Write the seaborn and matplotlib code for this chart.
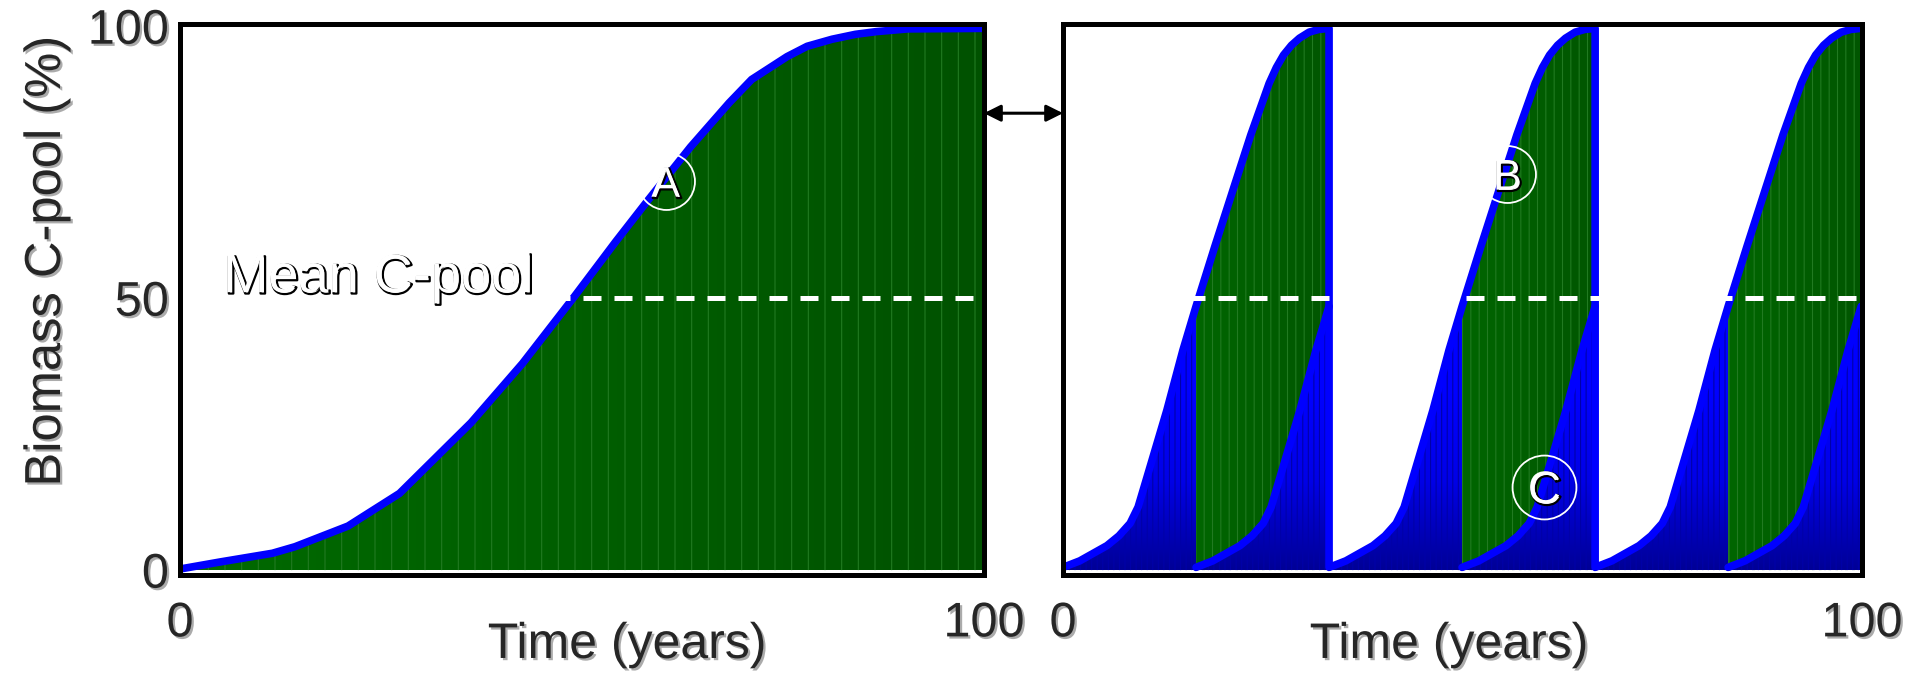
import numpy as np
import pandas as pd
import matplotlib.pyplot as plt
import seaborn as sns
from matplotlib import patheffects as pe
from matplotlib.colors import LinearSegmentedColormap

# --- data ---
# left panel: one stand growing for 100 years
years_a = [0, 5, 11.5, 14.3, 20.9, 27.3, 36.2, 42.6, 49, 54.2, 58.1, 63.5,
           68.3, 71.1, 75.5, 78, 81.1, 84, 86.6, 90.5, 100]
pool_a = [0.2, 1.5, 3.1, 4.3, 8.1, 14.1, 27.1, 38, 50.2, 60.4, 67.8, 77.8,
          85.9, 90.2, 94.4, 96.3, 97.6, 98.5, 99, 99.5, 99.6]

# right panel: one rotation, repeated three times
rot_years = [0, 2.1, 5.5, 7, 8.4, 9.4, 10.9, 13, 15, 16.65, 19, 21.3, 23.5,
             25.8, 26.7, 27.6, 28.6, 29.6, 30.8, 32, 33.3]
rot_pool = [0.5, 1.7, 4.5, 6.3, 8.6, 11.6, 19, 29.4, 40.4, 48.5, 59.5, 70, 80,
            89.5, 92.4, 94.7, 96.5, 97.8, 98.9, 99.4, 99.6]
rotation_starts = [0, 33.3, 66.6]
half_rotation = 16.65
mean_pool = 50

y_ticks = [0, 50, 100]
x_ticks = [0, 100]
x_ticklabels = ['0', '100']

circle_left = {'A': (60.4, 71.5)}
circle_right = {'B': (55.6, 72.8), 'C': (60.25, 15.3)}

sns.set_style('white')
plt.rcParams['font.family'] = ['Liberation Sans', 'DejaVu Sans']
plt.rcParams['hatch.linewidth'] = 0.8

BLUE = '#0000ff'
greens = ['#006a00', '#005200']
blues = ['#000096', '#0000e6', '#0000ff', '#0000ff']


def gradient_fill(ax, xs, ys, colors, vertical, z):
    poly = ax.fill_between(xs, ys, 0, facecolor='none', edgecolor='none', lw=0)
    ramp = np.linspace(0, 1, 256)
    ramp = ramp.reshape(-1, 1) if vertical else ramp.reshape(1, -1)
    top = max(ys) if vertical else 100
    im = ax.imshow(ramp, cmap=LinearSegmentedColormap.from_list('g', colors),
                   extent=[xs[0], xs[-1], 0, top], origin='lower', aspect='auto',
                   interpolation='bilinear', zorder=z)
    im.set_clip_path(poly.get_paths()[0], transform=ax.transData)


def stripes(ax, xs, ys, color, hatch, z):
    with plt.rc_context({'hatch.color': color}):
        ax.fill_between(xs, ys, 0, facecolor='none', edgecolor=color, lw=0,
                        hatch=hatch, zorder=z)


fig = plt.figure(figsize=(19.1, 6.73), dpi=100)
ax1 = fig.add_axes([180 / 1910, 98 / 673, 804 / 1910, 551 / 673])
ax2 = fig.add_axes([1063 / 1910, 98 / 673, 799 / 1910, 551 / 673])

# left panel
gradient_fill(ax1, years_a, pool_a, greens, False, 1)
stripes(ax1, years_a, pool_a, '#217a21', '|', 1.5)
sns.lineplot(x=years_a, y=pool_a, ax=ax1, color=BLUE, lw=5.5, sort=False,
             estimator=None, zorder=4, solid_joinstyle='round')

# right panel
h = rot_years.index(half_rotation)
upper = []
lower = []
for i, s in enumerate(rotation_starts):
    xu = [s + t for t in rot_years]
    xl = [s + half_rotation + t for t in rot_years[:h + 1]]
    gradient_fill(ax2, xu[:h + 1], rot_pool[:h + 1], blues, True, 1)
    stripes(ax2, xu[:h + 1], rot_pool[:h + 1], '#0000a8', '|||', 1.5)
    gradient_fill(ax2, xu[h:], rot_pool[h:], ['#006600', '#005600'], False, 1)
    stripes(ax2, xu[h:], rot_pool[h:], '#217a21', '||', 1.5)
    gradient_fill(ax2, xl, rot_pool[:h + 1], blues, True, 2)
    stripes(ax2, xl, rot_pool[:h + 1], '#0000a8', '|||', 2.5)
    upper.append(pd.DataFrame({'year': xu, 'pool': rot_pool}))
    lower.append(pd.DataFrame({'year': xl, 'pool': rot_pool[:h + 1], 'cycle': i}))

upper_df = pd.concat(upper, ignore_index=True)
lower_df = pd.concat(lower, ignore_index=True)
sns.lineplot(data=upper_df, x='year', y='pool', ax=ax2, color=BLUE, lw=5.5,
             sort=False, estimator=None, zorder=4, solid_joinstyle='round')
sns.lineplot(data=lower_df, x='year', y='pool', units='cycle', ax=ax2,
             color=BLUE, lw=5.5, sort=False, estimator=None, zorder=4,
             solid_joinstyle='round')

shadow = [pe.withSimplePatchShadow(offset=(1.6, -1.6), shadow_rgbFace='#888888', alpha=0.7)]
white_txt = [pe.Stroke(linewidth=1.6, foreground='black', offset=(1, -1)), pe.Normal()]

for ax in (ax1, ax2):
    ax.axhline(mean_pool, color='white', lw=3.6, dashes=(3.6, 2.6), zorder=5)
    ax.set_xlim(0, 100)
    ax.set_ylim(-0.9, 100.4)
    ax.set_xticks(x_ticks)
    ax.set_xticklabels(x_ticklabels)
    ax.tick_params(length=0, labelsize=35)
    ax.tick_params(axis='x', pad=19)
    ax.tick_params(axis='y', pad=8)
    for sp in ax.spines.values():
        sp.set_visible(True)
        sp.set_linewidth(3.6)
        sp.set_color('black')
        sp.set_zorder(10)
    ax.set_xlabel('Time (years)', fontsize=36, va='center',
                  path_effects=shadow)

ax1.set_yticks(y_ticks)
ax1.set_yticklabels([str(v) for v in y_ticks])
ax2.set_yticks([])
ax2.set_ylabel('')
ax1.set_ylabel('Biomass C-pool (%)', fontsize=36.5, va='center', path_effects=shadow)
ax1.yaxis.set_label_coords(-0.166, 0.57)
ax1.xaxis.set_label_coords(0.556, -0.127)
ax2.xaxis.set_label_coords(0.483, -0.127)
for lbl in ax1.get_xticklabels() + ax1.get_yticklabels() + ax2.get_xticklabels():
    lbl.set_path_effects(shadow)

ax1.text(5.35, 51.1, 'Mean C-pool', color='white', fontsize=39, ha='left',
         va='baseline', path_effects=white_txt, zorder=6)

for ax, circles in ((ax1, circle_left), (ax2, circle_right)):
    for name, (cx, cy) in circles.items():
        big = name == 'C'
        ax.plot(cx, cy, marker='o', ms=46 if big else 41, mfc='none', mec='white',
                mew=1.3, ls='none', zorder=6)
        ax.text(cx, cy - (3.0 if big else 2.85), name, color='white',
                fontsize=33 if big else 31, ha='center', va='baseline',
                path_effects=white_txt, zorder=7)

ax2.annotate('', xy=(0, 84), xycoords=ax2.transData, xytext=(100, 84),
             textcoords=ax1.transData, annotation_clip=False,
             arrowprops=dict(arrowstyle='<|-|>,head_length=0.5,head_width=0.25',
                             color='black', lw=2.2, shrinkA=0, shrinkB=0,
                             mutation_scale=20))

fig.savefig('out.png', dpi=100)
